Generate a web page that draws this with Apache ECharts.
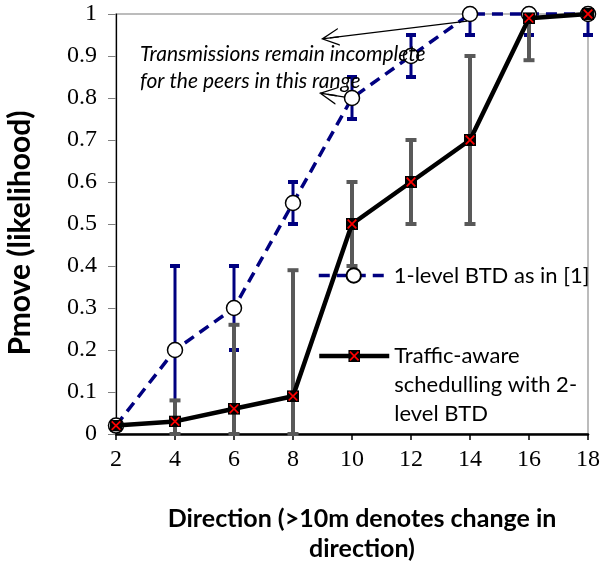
<!DOCTYPE html>
<html>
<head>
<meta charset="utf-8">
<script src="https://cdn.jsdelivr.net/npm/echarts@6/dist/echarts.min.js"></script>
<style>
  html, body { margin: 0; padding: 0; background: #fff; }
  #chart { width: 602px; height: 569px; }
</style>
</head>
<body>
<div id="chart"></div>
<script>
// ---- data ----
const xValues = [2, 4, 6, 8, 10, 12, 14, 16, 18];
const seriesNames = ['1-level BTD as in [1]', 'Traffic-aware\nschedulling with 2-\nlevel BTD'];
const btd1 = [0.02, 0.2, 0.3, 0.55, 0.8, 0.9, 1.0, 1.0, 1.0];
const btd1Low = [0.02, 0.0, 0.2, 0.5, 0.75, 0.85, 0.95, 0.95, 0.95];
const btd1High = [0.02, 0.4, 0.4, 0.6, 0.85, 0.95, 1.0, 1.0, 1.0];
const traffic = [0.02, 0.03, 0.06, 0.09, 0.5, 0.6, 0.7, 0.99, 1.0];
const trafficLow = [0.02, 0.0, 0.0, 0.0, 0.4, 0.5, 0.5, 0.89, 1.0];
const trafficHigh = [0.02, 0.08, 0.26, 0.39, 0.6, 0.7, 0.9, 1.0, 1.0];
const yTicks = [0, 0.1, 0.2, 0.3, 0.4, 0.5, 0.6, 0.7, 0.8, 0.9, 1];
const annotationLines = ['Transmissions remain incomplete', 'for the peers in this range'];
// arrows (data coordinates): [start, end]
const arrows = [
  [[13.9, 0.983], [9.25, 0.943]],
  [[9.76, 0.802], [9.18, 0.8086]]
];
const xTitle = 'Direction (>10m denotes change in\ndirection)';
const yTitle = 'Pmove (likelihood)';

// ---- symbols ----
const sqX = 'image://data:image/svg+xml;charset=utf-8,' + encodeURIComponent(
  '<svg xmlns="http://www.w3.org/2000/svg" width="24" height="24" viewBox="0 0 12 12">' +
  '<rect width="12" height="12" fill="#000"/>' +
  '<path d="M1.7 1.7L10.3 10.3M10.3 1.7L1.7 10.3" stroke="#ff0000" stroke-width="1.7"/></svg>');
const arrowHead = 'path://M50 0 L100 100 L92 100 L50 16 L8 100 L0 100 Z M46 6 L54 6 L54 100 L46 100 Z';

function errorBar(color, lineW, capW, capT) {
  return function (params, api) {
    const x = api.value(0), lo = api.value(1), hi = api.value(2);
    if (lo === hi) return null;
    const a = api.coord([x, lo]);
    const b = api.coord([x, hi]);
    const h = capW / 2;
    return {
      type: 'group',
      children: [
        { type: 'line', shape: { x1: a[0], y1: a[1], x2: b[0], y2: b[1] }, style: { stroke: color, lineWidth: lineW } },
        { type: 'line', shape: { x1: a[0] - h, y1: a[1], x2: a[0] + h, y2: a[1] }, style: { stroke: color, lineWidth: capT } },
        { type: 'line', shape: { x1: b[0] - h, y1: b[1], x2: b[0] + h, y2: b[1] }, style: { stroke: color, lineWidth: capT } }
      ]
    };
  };
}

const chart = echarts.init(document.getElementById('chart'), null, { renderer: 'canvas' });
const option = {
  animation: false,
  backgroundColor: '#fff',
  grid: {
    left: 116, right: 14, top: 14, bottom: 135,
    show: true, borderColor: '#a6a6a6', borderWidth: 1.5,
    containLabel: false, outerBoundsMode: 'none'
  },
  xAxis: {
    type: 'value', min: 2, max: 18, interval: 2,
    axisLine: { show: true, onZero: false, lineStyle: { color: '#000', width: 2.5 } },
    axisTick: { show: true, length: 6, lineStyle: { color: '#000', width: 1.5 } },
    axisLabel: { fontFamily: 'Liberation Serif', fontSize: 24, color: '#000', margin: 14 },
    splitLine: { show: false },
    name: xTitle, nameLocation: 'middle', nameGap: 70,
    nameTextStyle: { fontFamily: 'Lato', fontWeight: 'bold', fontSize: 25, lineHeight: 30, color: '#000', padding: [0, 0, 0, 20] }
  },
  yAxis: {
    type: 'value', min: 0, max: 1, interval: 0.1,
    axisLine: { show: true, onZero: false, lineStyle: { color: '#000', width: 1.25 } },
    axisTick: { show: true, length: 8, lineStyle: { color: '#808080', width: 1 } },
    axisLabel: {
      fontFamily: 'Liberation Serif', fontSize: 24, color: '#000', margin: 19,
      formatter: function (v) { const i = yTicks.findIndex(t => Math.abs(t - v) < 1e-9); return i >= 0 ? String(yTicks[i]) : ''; }
    },
    splitLine: { show: false },
    name: yTitle, nameLocation: 'middle', nameGap: 81,
    nameTextStyle: { fontFamily: 'Lato', fontWeight: 'bold', fontSize: 30, color: '#000', padding: [0, 18, 0, 0] }
  },
  legend: [
    {
      data: [seriesNames[0]], left: 317, top: 262, orient: 'vertical', padding: 0,
      itemWidth: 70, itemHeight: 18, selectedMode: false,
      lineStyle: { width: 3.5 },
      textStyle: { fontFamily: 'Lato', fontSize: 22, lineHeight: 27, color: '#000' }
    },
    {
      data: [seriesNames[1]], left: 317, top: 283.5, orient: 'vertical', padding: 0,
      itemWidth: 70, itemHeight: 15, selectedMode: false,
      lineStyle: { width: 4.5 },
      formatter: function (name) { return '\n\n' + name; },
      textStyle: { fontFamily: 'Lato', fontSize: 22, lineHeight: 29, color: '#000' }
    }
  ],
  graphic: [
    {
      type: 'text', left: 140, top: 41,
      style: {
        text: annotationLines.join('\n'),
        font: 'italic 21px Lato', lineHeight: 27, fill: '#000'
      },
      z: 50
    }
  ],
  series: [
    {
      type: 'custom', name: 'btdErr', renderItem: errorBar('#000080', 3, 10, 4),
      data: xValues.map((x, i) => [x, btd1Low[i], btd1High[i]]),
      encode: { x: 0, y: [1, 2] }, clip: false, silent: true, z: 1
    },
    {
      type: 'custom', name: 'trafficErr', renderItem: errorBar('#595959', 4, 11, 4),
      data: xValues.map((x, i) => [x, trafficLow[i], trafficHigh[i]]),
      encode: { x: 0, y: [1, 2] }, clip: false, silent: true, z: 1
    },
    {
      name: seriesNames[0], type: 'line',
      data: xValues.map((x, i) => [x, btd1[i]]),
      symbol: 'circle', symbolSize: 15, showSymbol: true, clip: false,
      lineStyle: { color: '#000080', width: 3.5, type: [11, 7] },
      itemStyle: { color: '#fff', borderColor: '#000', borderWidth: 1.5 },
      z: 3,
      markLine: {
        silent: true, animation: false,
        symbol: ['none', arrowHead], symbolSize: [18, 18],
        label: { show: false },
        lineStyle: { color: '#000', width: 1.3, type: 'solid' },
        emphasis: { disabled: true },
        data: arrows.map(a => [{ coord: a[0] }, { coord: a[1] }])
      }
    },
    {
      name: seriesNames[1], type: 'line',
      data: xValues.map((x, i) => [x, traffic[i]]),
      symbol: sqX, symbolSize: 12, showSymbol: true, clip: false,
      lineStyle: { color: '#000', width: 4.5 },
      itemStyle: { color: '#000' },
      z: 4
    }
  ]
};
chart.setOption(option);
</script>
</body>
</html>
